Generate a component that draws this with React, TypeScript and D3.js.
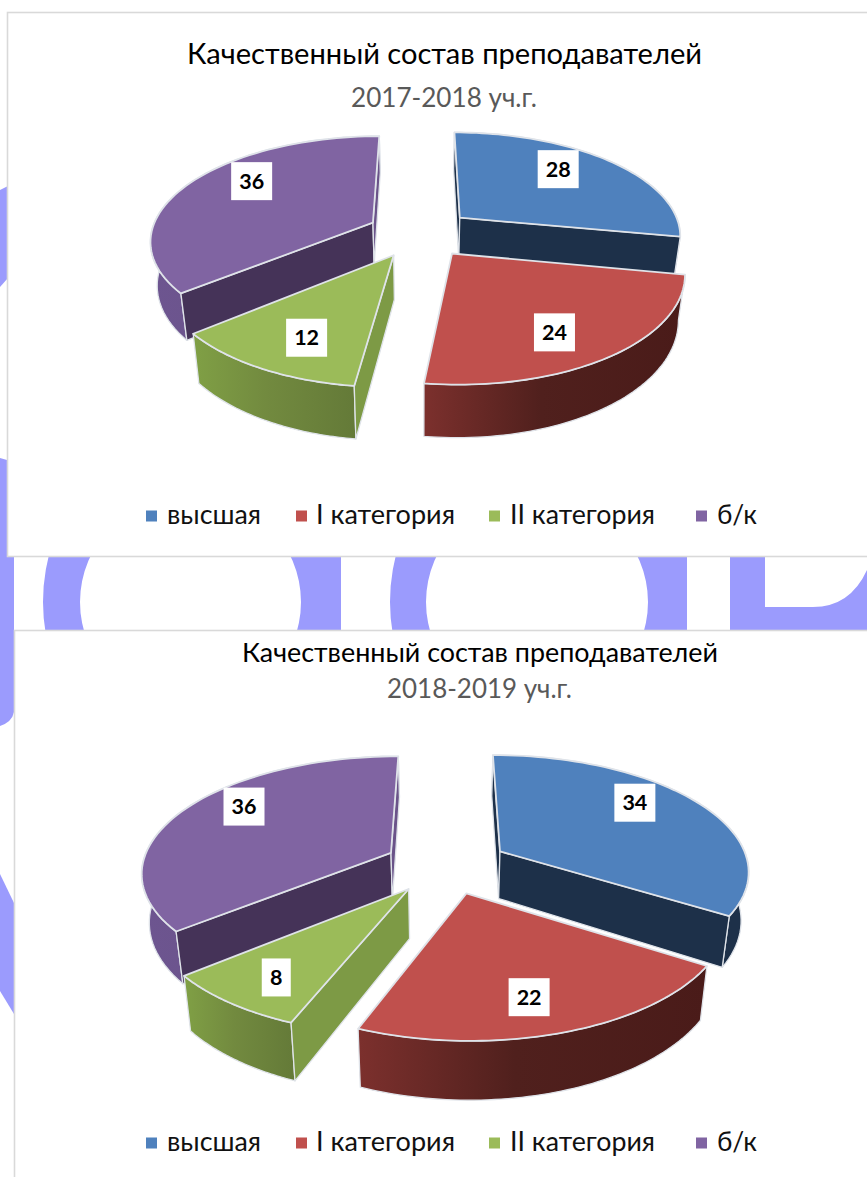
import React from "react";
import * as d3 from "d3";

// ---- data
const categories = ["высшая", "I категория", "II категория", "б/к"];
const titleText = "Качественный состав преподавателей";
const years = ["2017-2018 уч.г.", "2018-2019 уч.г."];
const values2017 = [28, 24, 12, 36];
const values2018 = [34, 22, 8, 36];

// ---- style
const topColors = ["#4f81bd", "#c0504d", "#9bbb59", "#8064a2"];
const startWall = ["#1d3049", "#4f1e1c", "#7d9a45", "#453358"];
const endWall = ["#1d3049", "#4f1e1c", "#6c8439", "#6a5389"];
const curveFrom = ["#1d3049", "#7c302d", "#80a045", "#6d5590"];
const curveMid = ["#1d3049", "#50201d", "#728a3f", "#6a5389"];
const curveTo = ["#1d3049", "#4a1b19", "#647a38", "#5e4a80"];
const paintOrder = [3, 0, 2, 1];
const font = "Lato, Carlito, 'Open Sans', sans-serif";
const WM = "#9b9bfd";
const EDGE = "#dfe3e9";

type Geo = {
  cx: number; cy: number; f: number; g: number; k: number; e: number; h: number;
  labelNudge: [number, number][]; boxW: number[];
};
const geo1: Geo = {
  cx: 420, cy: 233, f: 222, g: 103.2, k: 0.158, e: 0.238, h: 43,
  labelNudge: [[6, -13], [12, 21], [-12, 19], [-9, -17]], boxW: [41, 41, 41, 41],
};
const geo2: Geo = {
  cx: 446.4, cy: 865, f: 249, g: 115, k: 0.154, e: 0.25, h: 48,
  labelNudge: [[14, -18], [8, 26], [-31, 24], [-21, -19]], boxW: [41, 41, 29, 41],
};

const legendSquares = [146, 296, 489, 696];
const legendTexts: [number, number][] = [[167, 94], [316, 139], [510, 145], [717, 40]];

function Pie3D({ values, geo, id }: { values: number[]; geo: Geo; id: string }) {
  const arcs = d3.pie<number>().sort(null).value((d) => d).startAngle(0).endAngle(2 * Math.PI)(values);
  const line = d3.line<[number, number]>();
  const project = (X: number, Y: number, z: number): [number, number] => {
    const w = 1 + geo.k * Y;
    return [
      geo.cx + (geo.f * X * (1 - z * 0.025)) / w,
      geo.cy - (geo.g * Y) / w + (z * geo.h) / w,
    ];
  };
  return (
    <g>
      <defs>
        {topColors.map((_, i) => (
          <linearGradient key={i} id={`${id}-c${i}`} x1="0" x2="1" y1="0" y2="0">
            <stop offset="0" stopColor={curveFrom[i]} />
            <stop offset="0.45" stopColor={curveMid[i]} />
            <stop offset="1" stopColor={curveTo[i]} />
          </linearGradient>
        ))}
      </defs>
      {paintOrder.map((i) => {
        const a = arcs[i];
        const mid = (a.startAngle + a.endAngle) / 2;
        const ox = geo.e * Math.sin(mid);
        const oy = geo.e * Math.cos(mid);
        const pt = (t: number, r: number, z: number) =>
          project(ox + r * Math.sin(t), oy + r * Math.cos(t), z);
        const samples = d3.range(0, 61).map((n) => a.startAngle + ((a.endAngle - a.startAngle) * n) / 60);
        const topArc = samples.map((t) => pt(t, 1, 0));
        const botArc = samples.map((t) => pt(t, 1, 1)).reverse();
        const apex = pt(0, 0, 0);
        const apexB = pt(0, 0, 1);
        const quad = (t: number) => [apex, pt(t, 1, 0), pt(t, 1, 1), apexB] as [number, number][];
        const showStart = d3.polygonArea(quad(a.startAngle)) > 0;
        const showEnd = d3.polygonArea(quad(a.endAngle)) < 0;
        return (
          <g key={i} strokeLinejoin="round">
            <path d={line([...topArc, ...botArc])! + "Z"} fill={`url(#${id}-c${i})`} stroke={EDGE} strokeWidth={1.3} />
            {showStart && <path d={line(quad(a.startAngle))! + "Z"} fill={startWall[i]} stroke={EDGE} strokeWidth={1.3} />}
            {showEnd && <path d={line(quad(a.endAngle))! + "Z"} fill={endWall[i]} stroke={EDGE} strokeWidth={1.3} />}
            <path d={line([apex, ...topArc])! + "Z"} fill={topColors[i]} stroke={EDGE} strokeWidth={1.8} />
          </g>
        );
      })}
      {arcs.map((a, i) => {
        const mid = (a.startAngle + a.endAngle) / 2;
        const [px, py] = project(
          (geo.e + 0.6) * Math.sin(mid),
          (geo.e + 0.6) * Math.cos(mid),
          0
        );
        const x = px + geo.labelNudge[i][0];
        const y = py + geo.labelNudge[i][1];
        const bw = geo.boxW[i];
        return (
          <g key={i}>
            <rect x={x - bw / 2} y={y - 19} width={bw} height={38} fill="#fff" />
            <text x={x} y={y + 7.5} textAnchor="middle" fontFamily={font} fontWeight={700} fontSize={21.5} fill="#000">
              {a.data}
            </text>
          </g>
        );
      })}
    </g>
  );
}

function Legend({ y }: { y: number }) {
  return (
    <g>
      {categories.map((c, i) => (
        <g key={c}>
          <rect x={legendSquares[i]} y={y - 13.5} width={11} height={11} fill={topColors[i]} />
          <text x={legendTexts[i][0]} y={y} fontFamily={font} fontSize={27} fill="#111"
            textLength={legendTexts[i][1]} lengthAdjust="spacingAndGlyphs">
            {c}
          </text>
        </g>
      ))}
    </g>
  );
}

function Ring({ cx, rxO, ryO, rxI, ryI, cut }: { cx: number; rxO: number; ryO: number; rxI: number; ryI: number; cut: number }) {
  const cy = 602;
  const d =
    `M${cut},${cy - ryO}H${cx}A${rxO},${ryO} 0 0 0 ${cx},${cy + ryO}H${cut}Z` +
    `M${cx - rxI},${cy}A${rxI},${ryI} 0 1 0 ${cx + rxI},${cy}A${rxI},${ryI} 0 1 0 ${cx - rxI},${cy}Z`;
  return <path d={d} fillRule="evenodd" fill={WM} />;
}

export default function App() {
  return (
    <svg width={867} height={1177} style={{ position: "fixed", left: 0, top: 0, background: "#fff" }}>
      <defs>
        <clipPath id="band"><rect x={0} y={540} width={867} height={100} /></clipPath>
      </defs>
      {/* watermark behind the cards */}
      <path d="M0,190L8,186V278L0,287Z" fill={WM} />
      <path d="M0,458L14,462V712Q12,722 0,726Z" fill={WM} />
      <path d="M0,874L14,903V1014L0,991Z" fill={WM} />
      <g clipPath="url(#band)">
        <Ring cx={190.5} rxO={147.5} ryO={167} rxI={110.5} ryI={108} cut={341} />
        <Ring cx={537} rxO={147} ryO={167} rxI={111} ryI={108} cut={687} />
        <path d="M730,540H765V607H813Q850,607 867,570V640H730Z" fill={WM} />
      </g>

      {/* first card */}
      <rect x={7.5} y={12.5} width={870} height={544} fill="#fff" stroke="#d9d9d9" strokeWidth={1.6} />
      <text x={187} y={64} fontFamily={font} fontSize={29} fill="#000" textLength={515} lengthAdjust="spacingAndGlyphs">
        {titleText}
      </text>
      <text x={351} y={107} fontFamily={font} fontSize={27} fill="#595959" textLength={186} lengthAdjust="spacingAndGlyphs">
        {years[0]}
      </text>
      <Pie3D values={values2017} geo={geo1} id="a" />
      <Legend y={524} />

      {/* second card */}
      <rect x={14.5} y={630.5} width={870} height={570} fill="#fff" stroke="#d9d9d9" strokeWidth={1.6} />
      <text x={242} y={662} fontFamily={font} fontSize={27.5} fill="#000" textLength={476} lengthAdjust="spacingAndGlyphs">
        {titleText}
      </text>
      <text x={387} y={698} fontFamily={font} fontSize={27} fill="#595959" textLength={185} lengthAdjust="spacingAndGlyphs">
        {years[1]}
      </text>
      <Pie3D values={values2018} geo={geo2} id="b" />
      <Legend y={1151} />
    </svg>
  );
}
